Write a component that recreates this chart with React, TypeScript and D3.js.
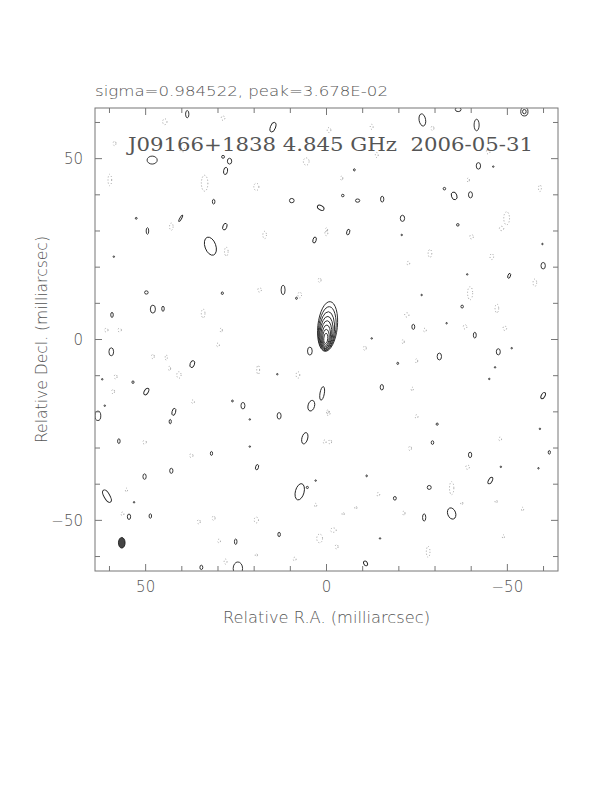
import React from 'react';
import * as d3 from 'd3';

// axis ticks (milliarcsec)
const tickValues = [-60, -50, -40, -30, -20, -10, 0, 10, 20, 30, 40, 50, 60];
const labelValues = [-50, 0, 50];

// nested contours of the core: [ra, dec, rx, ry, rotation deg]
const coreLevels = [
  [-0.3, 3.6, 2.7, 6.9, 6],
  [-0.2, 3.0, 2.4, 6.1, 6],
  [-0.1, 2.4, 2.1, 5.3, 5],
  [0.0, 1.9, 1.8, 4.5, 5],
  [0.05, 1.4, 1.5, 3.8, 4],
  [0.1, 1.0, 1.2, 3.0, 4],
  [0.15, 0.6, 0.9, 2.2, 3],
  [0.2, 0.3, 0.55, 1.4, 3],
];

// positive noise contours
const posContours = [
  [38.5, 62.3, 0.46, 1.0, 0], [14.8, 58.7, 0.7, 1.4, 20], [48.2, 49.6, 1.4, 1.1, 0],
  [28.6, 50.5, 0.4, 0.4, 0], [26.8, 49.3, 0.6, 0.8, 0], [27.9, 46.6, 0.55, 1.0, 10],
  [31.2, 38.1, 0.35, 0.65, 0], [9.6, 38.4, 0.65, 0.6, 0], [1.6, 36.4, 1.0, 0.6, 30],
  [52.6, 33.5, 0.25, 0.25, 0], [40.3, 33.5, 0.25, 1.0, 30], [49.5, 30.0, 0.35, 0.9, 0],
  [28.1, 31.2, 0.55, 0.95, 20], [32.1, 25.8, 1.5, 2.6, -20], [3.3, 27.5, 0.45, 0.85, 15],
  [58.8, 22.9, 0.2, 0.2, 0], [12.0, 13.7, 0.55, 1.3, 0], [49.8, 13.0, 0.5, 0.45, 0],
  [28.8, 12.8, 0.3, 0.35, 0], [48.0, 8.4, 0.7, 1.1, 0], [45.2, 8.5, 0.35, 0.7, 0],
  [59.3, 6.8, 0.35, 0.7, 0], [8.3, 11.4, 0.25, 0.3, 0],
  [-26.5, 60.7, 0.9, 1.7, -10], [-41.5, 59.3, 0.7, 1.6, 0], [-36.4, 63.6, 0.8, 0.6, 0],
  [-54.7, 63.0, 1.0, 1.2, 0], [-54.7, 63.0, 0.5, 0.6, 0], [-42, 48, 0.6, 0.9, 0],
  [-46.1, 47.8, 0.2, 0.2, 0], [-7.7, 46.9, 0.25, 0.3, 0], [-32.6, 41.7, 0.35, 0.35, 0],
  [-35.3, 39.7, 0.75, 1.1, -20], [-39.8, 40, 0.55, 0.85, 0], [-4.5, 39.8, 0.35, 0.35, 0],
  [-8.6, 38.4, 0.6, 0.45, 0], [-15.4, 38.8, 0.45, 0.8, 0], [-21, 33.5, 0.6, 0.85, 0],
  [-36.3, 31.7, 0.35, 0.35, 0], [-6, 29.7, 0.4, 0.8, 15], [-20.8, 28.9, 0.2, 0.2, 0],
  [-59.9, 20.4, 0.6, 0.9, 0], [-59.7, 26.4, 0.2, 0.2, 0], [-50.5, 17.6, 0.35, 0.7, 20],
  [-38.9, 18, 0.2, 0.2, 0], [-26.3, 12.3, 0.2, 0.2, 0], [-37.5, 9.1, 0.35, 0.4, 0],
  [-24, 3.5, 0.4, 0.7, 0], [-41, 1.2, 0.4, 0.8, 0], [-12.5, 0.3, 0.2, 0.2, 0],
  [-33.2, 4.5, 0.2, 0.2, 0],
  [59.5, -3.4, 0.65, 1.1, 0], [37.1, -6.8, 0.6, 1.0, 20], [4.6, -3.2, 0.65, 1.1, 0],
  [62, -11, 0.2, 0.2, 0], [53.5, -11.8, 0.3, 0.35, 0], [49.8, -14.4, 0.55, 1.0, 30],
  [13.6, -9.6, 0.2, 0.2, 0], [1.2, -14.9, 0.6, 1.9, 10], [4.2, -18.3, 0.9, 1.5, 15],
  [61.3, -18.3, 0.2, 0.2, 0], [63.2, -21.1, 0.8, 1.3, 0], [42.2, -20, 0.5, 1.0, 15],
  [43.2, -22.7, 0.3, 0.6, 0], [26, -17, 0.25, 0.25, 0], [23.1, -18.3, 0.55, 0.9, 0],
  [13.1, -21.1, 0.55, 0.9, 0], [21.2, -22.1, 0.2, 0.2, 0], [57.4, -28.1, 0.35, 0.65, 0],
  [6, -27.3, 0.8, 1.6, 15], [31.8, -31.5, 0.3, 0.55, 0], [21.2, -29.6, 0.2, 0.2, 0],
  [19.2, -35.3, 0.4, 0.75, 15], [42.9, -36.3, 0.45, 0.7, 0], [50.3, -37.9, 0.45, 0.75, 0],
  [60.7, -43.3, 0.8, 1.9, -30], [7.4, -42.1, 1.2, 2.3, 15], [5.3, -40.9, 0.3, 0.3, 0],
  [3, -39, 0.2, 0.2, 0], [54.6, -49, 0.45, 0.75, 0], [48.7, -48.8, 0.35, 0.6, 0],
  [53.2, -45, 0.2, 0.2, 0], [13.1, -53.9, 0.35, 0.6, 0], [25.1, -55.9, 0.35, 0.75, 0],
  [34.6, -63, 0.4, 0.6, 0], [24.5, -63.3, 1.3, 1.8, 0],
  [-31.2, -4.7, 0.6, 0.95, 0], [-47.5, -3.4, 0.55, 0.85, 0], [-51.2, -2.4, 0.2, 0.2, 0],
  [-19.7, -6.6, 0.25, 0.3, 0], [-46.6, -7.7, 0.2, 0.2, 0], [-45, -10.9, 0.2, 0.2, 0],
  [-15.3, -13.2, 0.45, 0.75, 0], [-59.9, -15.5, 0.5, 0.95, 30], [-30.6, -23.4, 0.3, 0.3, 0],
  [-29.3, -28.5, 0.35, 0.5, 0], [-59, -24.7, 0.2, 0.2, 0], [-39.7, -31.9, 0.45, 0.75, 0],
  [-61.6, -31.2, 0.3, 0.5, 0], [-48.2, -35.2, 0.2, 0.2, 0], [-58.6, -35.6, 0.2, 0.2, 0],
  [-11.1, -37.7, 0.2, 0.25, 0], [-45.3, -39, 0.5, 1.0, 30], [-28.4, -40.9, 0.55, 0.55, 0],
  [-18.9, -43.9, 0.4, 0.5, 0], [-27, -49.2, 0.45, 1.0, 0], [-34.6, -48.1, 1.1, 1.6, -20],
  [-14.8, -55, 0.2, 0.2, 0], [-10.8, -61.9, 0.5, 0.7, -30],
];

// negative (dotted) noise contours
const negContours = [
  [44.7, 60.2, 0.6, 0.8], [28.6, 61.2, 0.5, 0.6], [58.6, 54.2, 0.4, 0.6], [39.7, 52.4, 0.8, 0.5],
  [5.6, 49.2, 0.8, 1.0], [59.9, 44.1, 0.5, 1.6], [33.7, 43.2, 0.9, 2.2], [19.4, 42.2, 0.7, 1.0],
  [42.9, 31.2, 0.5, 1.0], [17.1, 28.9, 0.5, 1.0], [27.7, 24.3, 0.5, 1.2], [0.05, 29.4, 0.4, 0.7],
  [18.5, 13.7, 0.5, 0.6], [7.4, 12.3, 0.5, 0.8], [34.1, 7.2, 0.5, 1.2], [60.9, 2.6, 0.5, 0.5],
  [57.2, 2.6, 0.5, 0.5], [29.1, 2.6, 0.3, 0.6], [1.9, 16.4, 0.4, 0.6],
  [-0.7, 57.9, 0.5, 0.7], [-12.5, 58.8, 0.4, 0.7], [-13.9, 51, 0.4, 0.7], [-44.7, 51.9, 0.5, 0.6],
  [-29.3, 58.4, 0.4, 0.6], [-4.2, 44.6, 0.3, 0.6], [-39.2, 44.1, 0.3, 0.6], [-59, 41.8, 0.4, 0.9],
  [-49.8, 33.5, 0.8, 1.8], [-48.4, 30.7, 0.6, 0.6], [-40.1, 28.4, 0.5, 0.6], [-28.6, 23.8, 0.5, 1.1],
  [-45.7, 22.9, 0.5, 0.8], [-22.6, 21.1, 0.4, 0.5], [-57.6, 15.7, 0.5, 1.0], [-39.7, 12.8, 0.7, 1.8],
  [-47.1, 8.6, 0.5, 1.2], [-22.2, 6.8, 0.6, 0.6], [-38.3, 3.5, 0.5, 0.6], [-49.3, 3.1, 0.5, 0.6],
  [-27.2, 2.6, 0.4, 0.5], [0, 30.3, 0.3, 0.6],
  [48, -4.7, 0.4, 0.6], [44.3, -5, 0.3, 0.7], [43.4, -8, 0.3, 0.6], [40.8, -9.8, 0.6, 0.9],
  [30, -1.5, 0.4, 0.5], [18.9, -8.4, 0.4, 1.2], [7.9, -9.8, 0.5, 0.9], [58.3, -10.3, 0.4, 0.6],
  [59, -14.4, 0.4, 0.6], [36.9, -17.2, 0.4, 0.5], [50.3, -28.4, 0.5, 0.5], [37.4, -32.1, 0.5, 0.5],
  [0.5, -28.3, 0.4, 0.5], [-0.4, -20, 0.3, 0.6], [55.3, -41.6, 0.3, 0.5], [56.4, -48.2, 0.4, 0.5],
  [35.3, -50.4, 0.4, 0.6], [31.2, -49.4, 0.4, 0.6], [19.4, -49.9, 0.6, 0.8], [1.9, -55, 0.8, 1.2],
  [29.7, -55.7, 0.4, 0.5], [27.9, -61.4, 0.4, 0.7], [19.4, -59.6, 0.3, 0.4], [8.8, -60.7, 0.4, 0.5],
  [3, -45.8, 0.3, 0.5],
  [-10.6, -2.4, 0.4, 0.6], [-21.2, -0.6, 0.3, 0.6], [-24.9, -5.9, 0.3, 0.6], [-23.7, -13.7, 0.3, 0.5],
  [-24.9, -21.3, 0.4, 0.5], [-0.5, -20.4, 0.5, 0.6], [-1, -28.3, 0.4, 0.6], [-23.1, -30.1, 0.4, 0.6],
  [-48, -27.5, 0.4, 0.5], [-39, -35.3, 0.5, 0.6], [-34.6, -41.1, 0.6, 1.8], [-14.3, -42.8, 0.4, 0.5],
  [-21.4, -48, 0.3, 0.6], [-8.1, -46.5, 0.3, 0.4], [-4.6, -48.2, 0.3, 0.4], [-1.9, -52.7, 0.8, 0.6],
  [-2.8, -57.3, 0.4, 0.6], [-28.1, -58.7, 0.5, 1.5], [-48.9, -54.5, 0.3, 0.5], [-54.2, -46.9, 0.3, 0.5],
  [-46.9, -44.8, 0.3, 0.4], [-37.4, -45.3, 0.3, 0.4],
];

// restoring beam: [ra, dec, rx, ry, rotation]
const beam = [56.6, -56.2, 0.92, 1.47, 0];

const titleText = 'sigma=0.984522, peak=3.678E-02';
const plotLabel = 'J09166+1838 4.845 GHz  2006-05-31';
const xLabel = 'Relative R.A. (milliarcsec)';
const yLabel = 'Relative Decl. (milliarcsec)';

export default function App() {
  const left = 95, right = 558, top = 108, bottom = 571;
  const x = d3.scaleLinear().domain([64, -64]).range([left, right]);
  const y = d3.scaleLinear().domain([-64, 64]).range([bottom, top]);
  const k = Math.abs(x(1) - x(0));
  const axisColor = '#777';
  const textColor = '#555';
  const font = "'DejaVu Sans', sans-serif";

  const ell = (d, i, props) => {
    const cx = x(d[0]), cy = y(d[1]);
    return (
      <ellipse key={i} cx={cx} cy={cy} rx={d[2] * k} ry={d[3] * k}
        transform={d[4] ? `rotate(${d[4]},${cx},${cy})` : undefined} {...props} />
    );
  };

  return (
    <svg width={612} height={792} style={{ position: 'absolute', left: 0, top: 0, background: '#fff' }}>
      <defs>
        <clipPath id="plot"><rect x={left} y={top} width={right - left} height={bottom - top} /></clipPath>
      </defs>
      <text x={95} y={96} fontFamily={font} fontWeight={200} fontSize={14} fill={textColor}
        textLength={293} lengthAdjust="spacingAndGlyphs">{titleText}</text>

      <g clipPath="url(#plot)">
        {negContours.map((d, i) => ell(d, 'n' + i, { fill: 'none', stroke: '#888', strokeWidth: 0.8, strokeDasharray: '1 2' }))}
        {posContours.map((d, i) => ell(d, 'p' + i, { fill: 'none', stroke: '#222', strokeWidth: 0.9 }))}
        {coreLevels.map((d, i) => ell(d, 'c' + i, { fill: 'none', stroke: '#222', strokeWidth: 0.9 }))}
        {ell(beam, 'beam', { fill: '#444', stroke: '#111', strokeWidth: 0.8 })}
      </g>

      <text x={128} y={151} fontFamily="'DejaVu Serif', serif" fontWeight={200} fontSize={19} fill={textColor}
        textLength={405} lengthAdjust="spacingAndGlyphs" style={{ whiteSpace: 'pre' }}>{plotLabel}</text>

      <rect x={left} y={top} width={right - left} height={bottom - top} fill="none" stroke={axisColor} strokeWidth={1} />
      <g stroke={axisColor} strokeWidth={1}>
        {tickValues.map((t) => (
          <g key={t}>
            <line x1={x(t)} x2={x(t)} y1={bottom} y2={bottom - (t % 50 === 0 ? 7 : 5)} />
            <line x1={x(t)} x2={x(t)} y1={top} y2={top + (t % 50 === 0 ? 7 : 5)} />
            <line y1={y(t)} y2={y(t)} x1={left} x2={left + (t % 50 === 0 ? 7 : 5)} />
            <line y1={y(t)} y2={y(t)} x1={right} x2={right - (t % 50 === 0 ? 7 : 5)} />
          </g>
        ))}
      </g>
      <g fontFamily={font} fontWeight={200} fontSize={15} fill={textColor}>
        {labelValues.map((t) => (
          <text key={'x' + t} x={x(t)} y={592} textAnchor="middle">{t < 0 ? '\u2212' + Math.abs(t) : t}</text>
        ))}
        {labelValues.map((t) => (
          <text key={'y' + t} x={83} y={y(t) + 5.5} textAnchor="end">{t < 0 ? '\u2212' + Math.abs(t) : t}</text>
        ))}
        <text x={326.5} y={623} textAnchor="middle" textLength={207} lengthAdjust="spacingAndGlyphs">{xLabel}</text>
        <text transform={`translate(47,${y(0)}) rotate(-90)`} textAnchor="middle" textLength={207}
          lengthAdjust="spacingAndGlyphs">{yLabel}</text>
      </g>
    </svg>
  );
}
